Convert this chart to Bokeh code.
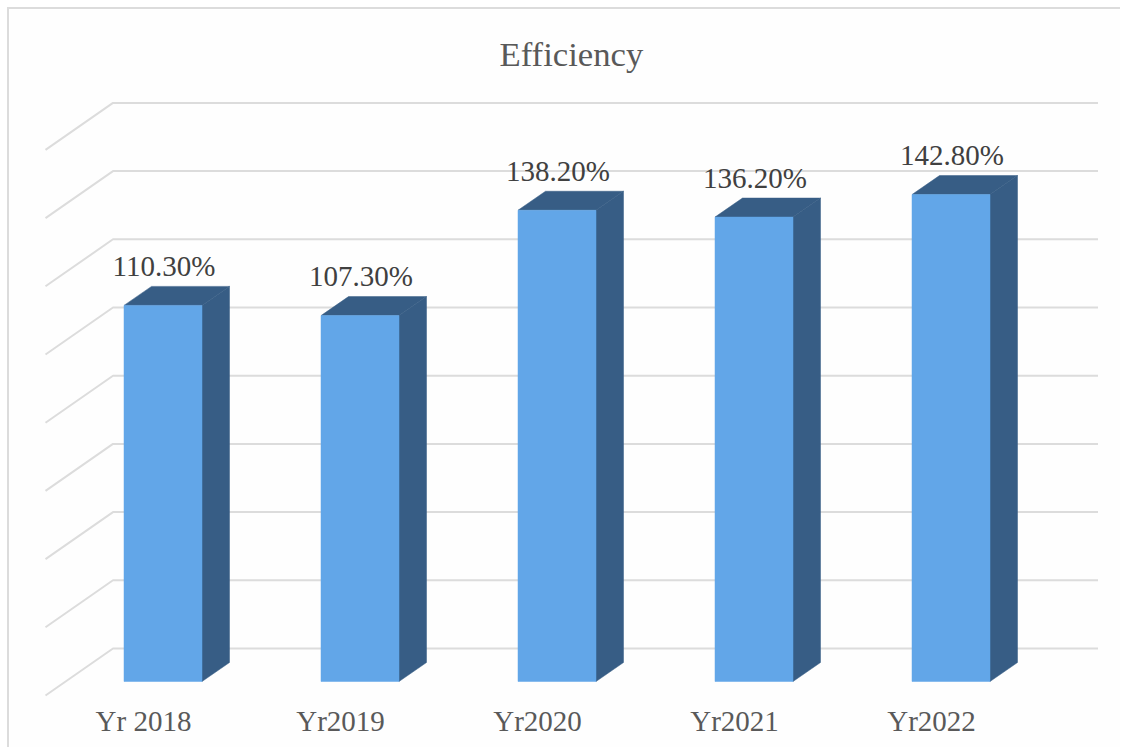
from bokeh.embed import file_html
from bokeh.resources import INLINE
from bokeh.plotting import figure
from bokeh.models import ColumnDataSource, FixedTicker, Range1d, Title
from bokeh.core.properties import value

years = ["Yr 2018", "Yr2019", "Yr2020", "Yr2021", "Yr2022"]
efficiency = [110.3, 107.3, 138.2, 136.2, 142.8]
grid_levels = [0, 20, 40, 60, 80, 100, 120, 140, 160]

PX_X = 197.0      # pixels per category
PX_Y = 3.41       # pixels per value unit
ORIGIN = 9        # page pixel of the canvas corner
WIDTH, HEIGHT = 1113, 740
FRAME_TOP, FRAME_BOTTOM = 76, 697     # page pixels
TICK0 = 143.0                         # page x of the first tick
BASE = 681.0                          # page y of value 0 at the front of the bars

x_range = Range1d((ORIGIN - TICK0) / PX_X, (ORIGIN + WIDTH - TICK0) / PX_X)
y_range = Range1d((BASE - FRAME_BOTTOM) / PX_Y, (BASE - FRAME_TOP) / PX_Y)

p = figure(width=WIDTH, height=HEIGHT, output_backend="svg", toolbar_location=None,
           x_range=x_range, y_range=y_range,
           min_border_left=0, min_border_right=0,
           min_border_top=FRAME_TOP - ORIGIN, min_border_bottom=ORIGIN + HEIGHT - FRAME_BOTTOM,
           background_fill_color="#fefefe", border_fill_color="#fefefe",
           outline_line_color=None,
           styles={"border-top": "2px solid #dcdcdc", "border-left": "2px solid #dcdcdc",
                   "margin-top": "7px", "margin-left": "7px"})

title = Title(text="Efficiency", align="left", offset=499 - ORIGIN, standoff=6,
              text_font="Liberation Serif", text_font_size="34.7px",
              text_font_style="normal", text_color="#595959")
p.add_layout(title, "above")

# category axis
p.xaxis.ticker = FixedTicker(ticks=list(range(len(years))))
p.xaxis.major_label_overrides = {i: y for i, y in enumerate(years)}
p.xaxis.axis_line_color = None
p.xaxis.major_tick_line_color = None
p.xaxis.minor_tick_line_color = None
p.xaxis.major_label_standoff = 1
p.xaxis.major_label_text_font = "Liberation Serif"
p.xaxis.major_label_text_font_size = "29px"
p.xaxis.major_label_text_color = "#595959"
p.yaxis.visible = False
p.grid.visible = False

# 3-D depth of the walls and bars, in data units
wall_dx, wall_dy = 67.5 / PX_X, 47.0 / PX_Y
floor_y = (BASE - 648.0) / PX_Y
right_x = (1097.5 - TICK0) / PX_X
left_x = (112.5 - TICK0) / PX_X
bar_dx, bar_dy = 27.5 / PX_X, 19.0 / PX_Y
bar_shift = 19.5 / PX_X
bar_half = 39.0 / PX_X

xs, ys = [], []
for g in grid_levels:
    back = g + floor_y
    xs.append([left_x - wall_dx, left_x, right_x])
    ys.append([back - wall_dy, back, back])
p.multi_line(xs, ys, line_color="#dcdcdc", line_width=2)

centers = [i + bar_shift for i in range(len(years))]
lefts = [c - bar_half for c in centers]
rights = [c + bar_half for c in centers]

side_x = [[r, r + bar_dx, r + bar_dx, r] for r in rights]
side_y = [[0, bar_dy, v + bar_dy, v] for v in efficiency]
top_x = [[l, l + bar_dx, r + bar_dx, r] for l, r in zip(lefts, rights)]
top_y = [[v, v + bar_dy, v + bar_dy, v] for v in efficiency]

p.patches(side_x, side_y, fill_color="#375D85", line_color="#375D85", line_width=0.5)
p.patches(top_x, top_y, fill_color="#375D85", line_color="#375D85", line_width=0.5)
p.quad(left=lefts, right=rights, bottom=0, top=efficiency,
       fill_color="#62A6E8", line_color="#62A6E8", line_width=0.5)

labels = ColumnDataSource(dict(
    x=centers,
    y=efficiency,
    text=[f"{v:.2f}%" for v in efficiency],
))
p.text(x="x", y="y", text="text", source=labels, text_align="center", text_baseline="alphabetic",
       x_offset=1, y_offset=-39.5, text_font=value("Liberation Serif"), text_font_size="29px",
       text_color="#404040")

open("out.html", "w").write(file_html(p, INLINE))
